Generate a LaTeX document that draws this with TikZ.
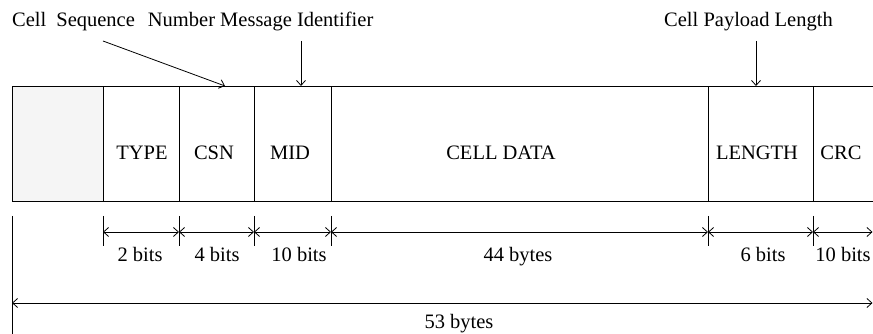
\documentclass[tikz,border=0pt]{standalone}
\usepackage{fontspec}
\setmainfont{Liberation Serif}
\usetikzlibrary{arrows.meta}
\begin{document}
\begin{tikzpicture}[x=1pt,y=1pt,
  every node/.style={font=\fontsize{20.5}{24}\selectfont},
  cell/.style={draw, line width=0.9pt, inner sep=0pt, outer sep=0pt, minimum height=115pt, anchor=north west},
  openc/.style={inner sep=0pt, outer sep=0pt, minimum height=115pt, anchor=north west},
  lbl/.style={anchor=base, inner sep=0pt},
  tip/.tip={Straight Barb[length=5pt,width=9pt,line width=0.8pt]},
  dim/.style={line width=0.8pt, tip-tip},
  ptr/.style={line width=0.8pt, -tip},
  tick/.style={line width=0.9pt}]
\useasboundingbox (0,0) rectangle (873,334);
% cells
\node[cell, fill=gray!8, minimum width=91pt] (hdr) at (12,248) {};
\node[cell, minimum width=76pt] (type) at (hdr.north east) {};
\node[cell, minimum width=75pt] (csn) at (type.north east) {};
\node[cell, minimum width=77pt] (mid) at (csn.north east) {};
\node[cell, minimum width=377pt] (data) at (mid.north east) {};
\node[cell, minimum width=105pt] (len) at (data.north east) {};
\node[openc, minimum width=61pt] (crc) at (len.north east) {};
\draw[tick] (crc.north west) -- (crc.north east);
\draw[tick] (crc.south west) -- (crc.south east);
% field texts
\node[lbl] (ttype) at (142,174) {TYPE};
\node[lbl] (tcsn) at (214,174) {CSN};
\node[lbl] (tmid) at (290,174) {MID};
\node[lbl] (tdata) at (501,174) {CELL DATA};
\node[lbl] (tlen) at (757,174) {LENGTH};
\node[lbl] (tcrc) at (841,174) {CRC};
% top labels
\node[anchor=base west, inner sep=0pt] (lcsn) at (12,307) {Cell\hspace{10pt}Sequence\hspace{13pt}Number};
\node[anchor=base west, inner sep=0pt] (lmid) at (220,307) {Message Identifier};
\node[anchor=base west, inner sep=0pt] (llen) at (664,307) {Cell Payload Length};
\coordinate (a1) at (103,293);
\coordinate (a2) at (301,293);
\coordinate (a3) at (756,293);
\draw[ptr] (a1) -- ([xshift=8.5pt]csn.north);
\draw[ptr] (a2) -- ([xshift=8.5pt]mid.north);
\draw[ptr] (a3) -- ([xshift=-4.5pt]len.north);
% dimension row
\path (type.south west) ++(0,-31) coordinate (d1);
\path (csn.south west) ++(0,-31) coordinate (d2);
\path (mid.south west) ++(0,-31) coordinate (d3);
\path (data.south west) ++(0,-31) coordinate (d4);
\path (len.south west) ++(0,-31) coordinate (d5);
\path (crc.south west) ++(0,-31) coordinate (d6);
\coordinate (d7) at (872.5,102);
\foreach \d in {d1,d2,d3,d4,d5,d6}{
  \draw[tick] ([yshift=16pt]\d) -- ([yshift=-14pt]\d);
}
\draw[dim] (d1) -- (d2);
\draw[dim] (d2) -- (d3);
\draw[dim] (d3) -- (d4);
\draw[dim] (d4) -- (d5);
\draw[dim] (d5) -- (d6);
\draw[dim] (d6) -- (d7);
\node[lbl] (s1) at (140,72) {2 bits};
\node[lbl] (s2) at (217,72) {4 bits};
\node[lbl] (s3) at (299,72) {10 bits};
\node[lbl] (s4) at (518,72) {44 bytes};
\node[lbl] (s5) at (763,72) {6 bits};
\node[lbl] (s6) at (843,72) {10 bits};
% total
\path (hdr.south west) ++(0,-102) coordinate (b0);
\coordinate (b1) at (872.5,31);
\draw[tick] ([yshift=-15pt]hdr.south west) -- ([yshift=-133pt]hdr.south west);
\draw[dim] (b0) -- (b1);
\node[lbl] (tot) at (459,5) {53 bytes};
\end{tikzpicture}
\end{document}
